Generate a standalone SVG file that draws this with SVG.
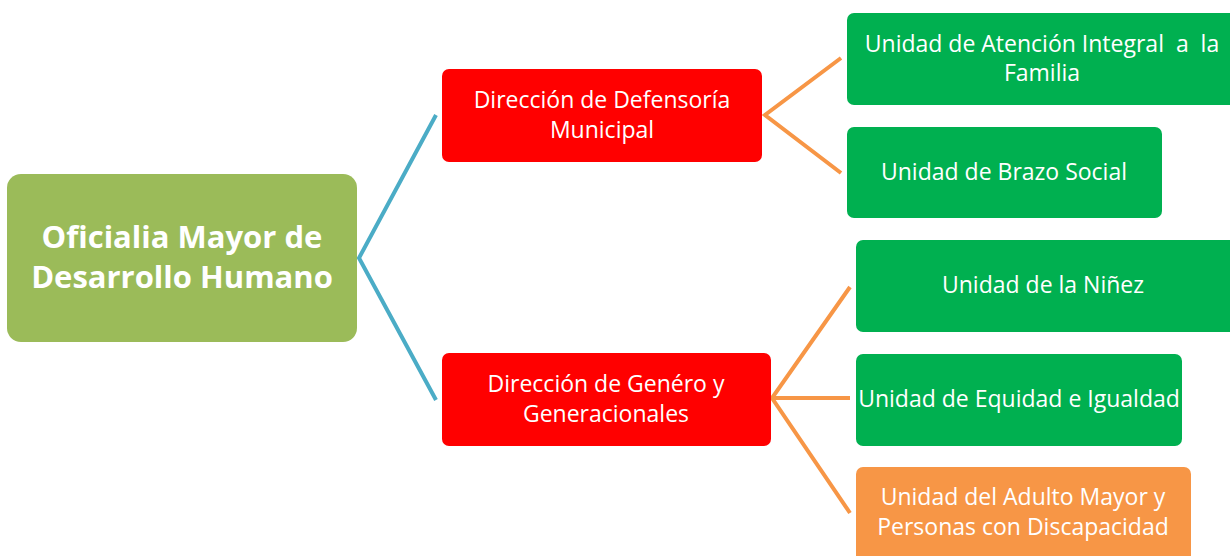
<svg xmlns="http://www.w3.org/2000/svg" width="1230" height="556" viewBox="0 0 1230 556">
<style>
.t{font-family:"Open Sans","Liberation Sans",sans-serif;fill:#fff;text-anchor:middle;font-size:23px;white-space:pre}
.tb{font-family:"Open Sans","Liberation Sans",sans-serif;fill:#fff;text-anchor:middle;font-size:31px;font-weight:bold}
.blue{stroke:#4BACC6;stroke-width:4;fill:none}
.org{stroke:#F79646;stroke-width:4;fill:none}
</style>
<rect width="1230" height="556" fill="#fff"/>
<g id="connectors">
<polyline class="blue" points="436,115 359,258 436,400"/>
<polyline class="org" points="841,58 765,115 841,173"/>
<polyline class="org" points="850,287 772,398 850,513"/>
<line class="org" x1="772" y1="398" x2="850" y2="398"/>
</g>
<g id="oficialia">
<rect x="7" y="174" width="350" height="168" rx="14" fill="#9BBB59"/>
<text class="tb" x="182" y="248">Oficialia Mayor de</text>
<text class="tb" x="182" y="288">Desarrollo Humano</text>
</g>
<g id="defensoria">
<rect x="442" y="69" width="320" height="93" rx="7" fill="#FF0000"/>
<text class="t" x="602" y="108">Dirección de Defensoría</text>
<text class="t" x="602" y="138">Municipal</text>
</g>
<g id="genero">
<rect x="442" y="353" width="329" height="93" rx="7" fill="#FF0000"/>
<text class="t" x="606" y="392">Dirección de Genéro y</text>
<text class="t" x="606" y="422">Generacionales</text>
</g>
<g id="atencion">
<rect x="847" y="13" width="392" height="92" rx="7" fill="#00B050"/>
<text class="t" x="1042" y="52">Unidad de Atención Integral  a  la</text>
<text class="t" x="1042" y="81">Familia</text>
</g>
<g id="brazo">
<rect x="847" y="127" width="315" height="91" rx="7" fill="#00B050"/>
<text class="t" x="1004" y="180">Unidad de Brazo Social</text>
</g>
<g id="ninez">
<rect x="856" y="240" width="380" height="92" rx="7" fill="#00B050"/>
<text class="t" x="1043" y="293">Unidad de la Niñez</text>
</g>
<g id="equidad">
<rect x="856" y="354" width="326" height="92" rx="7" fill="#00B050"/>
<text class="t" x="1019" y="407">Unidad de Equidad e Igualdad</text>
</g>
<g id="adulto">
<rect x="856" y="467" width="335" height="100" rx="7" fill="#F79646"/>
<text class="t" x="1023" y="505">Unidad del Adulto Mayor y</text>
<text class="t" x="1023" y="535">Personas con Discapacidad</text>
</g>
</svg>
